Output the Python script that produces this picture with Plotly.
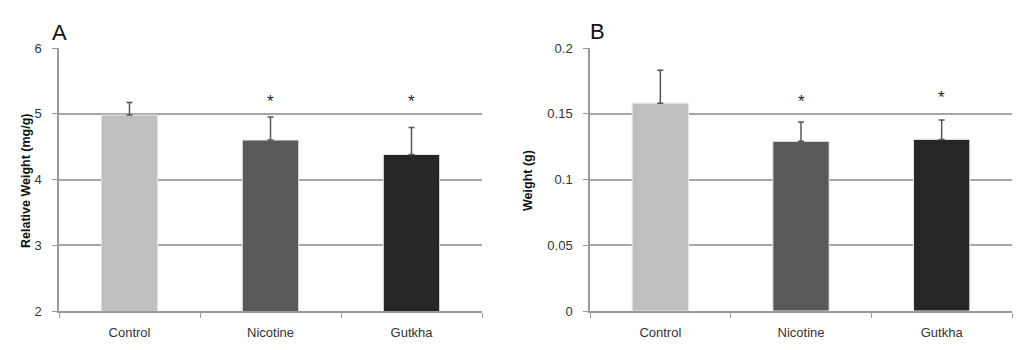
import plotly.graph_objects as go

categories = ["Control", "Nicotine", "Gutkha"]
colors = ["#BFBFBF", "#595959", "#262626"]

rel_weight = [4.98, 4.60, 4.38]
rel_weight_err = [0.19, 0.35, 0.41]
rel_star_y = [None, 5.19, 5.19]

weight = [0.158, 0.129, 0.1305]
weight_err = [0.025, 0.0148, 0.0148]
weight_star_y = [None, 0.159, 0.162]

FONT = "Liberation Sans, Arial, sans-serif"

# page body has an 8px margin; the figure is sized to fit inside the window
OFF = 8
W, H = 1024 - 2 * OFF, 350 - 2 * OFF


def px(x):
    return (x - OFF) / W


def py(y):
    return 1 - (y - OFF) / H


fig = go.Figure()

fig.add_trace(go.Bar(
    x=categories, y=rel_weight, marker=dict(color=colors, line=dict(color="#e6e6e6", width=1)),
    width=0.4, xaxis="x", yaxis="y",
    error_y=dict(type="data", symmetric=False, array=rel_weight_err,
                 arrayminus=[0, 0, 0], color="#555555", thickness=1.5, width=3),
    showlegend=False))

fig.add_trace(go.Bar(
    x=categories, y=weight, marker=dict(color=colors, line=dict(color="#e6e6e6", width=1)),
    width=0.4, xaxis="x2", yaxis="y2",
    error_y=dict(type="data", symmetric=False, array=weight_err,
                 arrayminus=[0, 0, 0], color="#555555", thickness=1.5, width=3),
    showlegend=False))

annotations = []
for c, yv in zip(categories, rel_star_y):
    if yv is not None:
        annotations.append(dict(x=c, y=yv, xref="x", yref="y", text="*", showarrow=False,
                                font=dict(family=FONT, size=17, color="#222222")))
for c, yv in zip(categories, weight_star_y):
    if yv is not None:
        annotations.append(dict(x=c, y=yv, xref="x2", yref="y2", text="*", showarrow=False,
                                font=dict(family=FONT, size=17, color="#222222")))

annotations += [
    dict(x=px(50), y=py(18), xref="paper", yref="paper", text="A", showarrow=False,
         font=dict(family=FONT, size=22, color="#111111")),
    dict(x=px(597), y=py(17), xref="paper", yref="paper", text="B", showarrow=False,
         font=dict(family=FONT, size=22, color="#111111")),
    dict(x=px(17), y=py(181), xref="paper", yref="paper", text="<b>Relative Weight (mg/g)</b>",
         textangle=-90, showarrow=False, font=dict(family=FONT, size=12.5, color="#111111")),
    dict(x=px(528), y=py(181), xref="paper", yref="paper", text="<b>Weight (g)</b>",
         textangle=-90, showarrow=False, font=dict(family=FONT, size=12.5, color="#111111")),
]

ydom = [py(311), py(48)]
xaxis_common = dict(showgrid=False, showline=True, linecolor="#9a9a9a", linewidth=1.5,
                    ticks="outside", tickson="boundaries", ticklen=5, tickcolor="#9a9a9a",
                    automargin=False, ticklabelstandoff=9,
                    tickfont=dict(family=FONT, size=13, color="#333333"), fixedrange=True)
yaxis_common = dict(showgrid=True, gridcolor="#a6a6a6", gridwidth=1.5, showline=True,
                    linecolor="#9a9a9a", linewidth=1.5, ticks="outside", ticklen=5,
                    tickcolor="#9a9a9a", zeroline=False, automargin=False,
                    ticklabelstandoff=8,
                    tickfont=dict(family=FONT, size=13, color="#333333"))

fig.update_layout(
    width=W, height=H,
    margin=dict(l=0, r=0, t=0, b=0, autoexpand=False),
    paper_bgcolor="white", plot_bgcolor="white",
    bargap=0.6,
    xaxis=dict(domain=[px(59), px(482)], anchor="y", **xaxis_common),
    yaxis=dict(domain=ydom, anchor="x", range=[2, 6], dtick=1, **yaxis_common),
    xaxis2=dict(domain=[px(590), px(1012)], anchor="y2", **xaxis_common),
    yaxis2=dict(domain=ydom, anchor="x2", range=[0, 0.2], dtick=0.05, **yaxis_common),
    annotations=annotations,
)

fig.write_html("out.html")
